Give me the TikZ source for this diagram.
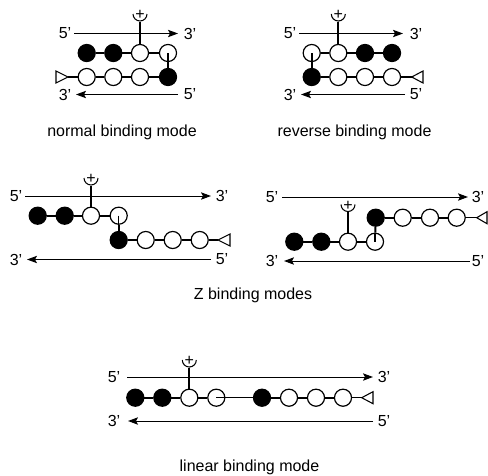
\documentclass[tikz,border=0pt]{standalone}
\usepackage{fontspec}
\setmainfont{Liberation Sans}
\usetikzlibrary{arrows.meta}
\tikzset{
  x=0.75pt,y=-0.75pt,
  wh/.style={circle,draw=black,fill=white,line width=0.9pt,minimum size=12.8pt,inner sep=0pt},
  bl/.style={circle,draw=black,fill=black,line width=0.9pt,minimum size=12.8pt,inner sep=0pt},
  bond/.style={line width=1.5pt},
  thinb/.style={line width=0.8pt},
  strand/.style={line width=0.75pt,-{Stealth[length=7.5pt,width=5.5pt,inset=1.5pt]}},
  lab/.style={font=\fontsize{12pt}{14pt}\selectfont,inner sep=0pt},
  captxt/.style={font=\fontsize{12pt}{14pt}\selectfont,inner sep=0pt},
  plustxt/.style={font=\fontsize{12pt}{14pt}\selectfont,inner sep=0pt},
}
% name, x, y : antenna cup above x, stem to circle
\newcommand{\mycup}[4]{%
  \coordinate (#1) at (#2,#3+7.5);
  \draw[line width=0.8pt] (#2-7,#3) arc[start angle=180,end angle=360,radius=5.25pt];
  \node[plustxt] (#1p) at (#2,#3+1) {+};
  \draw[bond] (#1) -- (#4);
}
% name, apex x, back x, y, circle
\newcommand{\mytri}[5]{%
  \coordinate (#1) at (#2,#4);
  \draw[line width=0.8pt,line join=miter] (#2,#4) -- (#3,#4-6) -- (#3,#4+6) -- cycle;
  \draw[thinb] (#1) -- (#5);
}
\newcommand{\myarrows}[8]{% x-left lab, x-from, x-to, x-right lab, y1, y2, xb from, xb to
  \node[lab] (#1a) at (#2,#6) {5'};
  \node[lab] (#1b) at (#5,#6) {3'};
  \node[lab] (#1c) at (#2,#7) {3'};
  \node[lab] (#1d) at (#5,#7) {5'};
  \coordinate (#1e) at (#3,#6); \coordinate (#1f) at (#4,#6);
  \coordinate (#1g) at (#8,#7);
  \draw[strand] (#1e) -- (#1f);
}
\begin{document}
\begin{tikzpicture}
\useasboundingbox (0,0) rectangle (488,475);
% panel 1
\myarrows{A}{65}{74}{178}{190}{33.5}{94.5}{178}
\coordinate (Ah) at (76,94.5); \draw[strand] (Ag) -- (Ah);
\node[bl] (a1) at (86.7,53) {}; \node[bl] (a2) at (113.3,53) {};
\node[wh] (a3) at (140,53) {}; \node[wh] (a4) at (168,53) {};
\node[wh] (a5) at (86.7,77) {}; \node[wh] (a6) at (113.3,77) {};
\node[wh] (a7) at (140,77) {}; \node[bl] (a8) at (168,77) {};
\draw[bond] (a1)--(a2); \draw[bond] (a2)--(a3); \draw[bond] (a3)--(a4);
\draw[bond] (a5)--(a6); \draw[bond] (a6)--(a7); \draw[bond] (a7)--(a8);
\draw[bond] (a4.center)--(a8);
\mycup{Au}{140}{14}{a3}
\mytri{At}{68}{56}{77}{a5}
\node[captxt] (c1) at (122,132.5) {normal binding mode};
% panel 2
\myarrows{B}{290}{299}{403}{416}{33.5}{94.5}{405}
\coordinate (Bh) at (301,94.5); \draw[strand] (Bg) -- (Bh);
\node[wh] (b1) at (311.7,53) {}; \node[wh] (b2) at (338.3,53) {};
\node[bl] (b3) at (365,53) {}; \node[bl] (b4) at (392,53) {};
\node[bl] (b5) at (311.7,77) {}; \node[wh] (b6) at (338.3,77) {};
\node[wh] (b7) at (365,77) {}; \node[wh] (b8) at (392,77) {};
\draw[bond] (b1)--(b2); \draw[bond] (b2)--(b3); \draw[bond] (b3)--(b4);
\draw[bond] (b5)--(b6); \draw[bond] (b6)--(b7); \draw[bond] (b7)--(b8);
\draw[bond] (b1.center)--(b5);
\mycup{Bu}{338.3}{14}{b2}
\mytri{Bt}{411.7}{423}{77}{b8}
\node[captxt] (c2) at (354.5,132.5) {reverse binding mode};
% panel 3
\myarrows{C}{16}{25}{211}{222}{196}{259.5}{211}
\coordinate (Ch) at (27,259.5); \draw[strand] (Cg) -- (Ch);
\node[bl] (d1) at (37.7,215.7) {}; \node[bl] (d2) at (64.7,215.7) {};
\node[wh] (d3) at (91,215.7) {}; \node[wh] (d4) at (118.7,215.7) {};
\node[bl] (d5) at (118.7,240) {}; \node[wh] (d6) at (145.7,240) {};
\node[wh] (d7) at (172.7,240) {}; \node[wh] (d8) at (199.7,240) {};
\draw[bond] (d1)--(d2); \draw[bond] (d2)--(d3); \draw[bond] (d3)--(d4);
\draw[bond] (d5)--(d6); \draw[bond] (d6)--(d7); \draw[bond] (d7)--(d8);
\draw[bond] (d4)--(d5); \draw[thinb] (d4.center)--(d4.south);
\mycup{Cu}{91}{178}{d3}
\mytri{Ct}{218}{230}{240}{d8}
% panel 4
\myarrows{D}{272}{282}{468}{478}{197}{261}{470}
\coordinate (Dh) at (284,261); \draw[strand] (Dg) -- (Dh);
\node[bl] (e1) at (375.7,217.7) {}; \node[wh] (e2) at (402.7,217.7) {};
\node[wh] (e3) at (430,217.7) {}; \node[wh] (e4) at (456.7,217.7) {};
\node[bl] (e5) at (294.3,241.7) {}; \node[bl] (e6) at (321.3,241.7) {};
\node[wh] (e7) at (348,241.7) {}; \node[wh] (e8) at (375,241.7) {};
\draw[bond] (e1)--(e2); \draw[bond] (e2)--(e3); \draw[bond] (e3)--(e4);
\draw[bond] (e5)--(e6); \draw[bond] (e6)--(e7); \draw[bond] (e7)--(e8);
\draw[bond] (e1)--(e8); \draw[thinb] (e8.north)--(e8.center);
\mycup{Du}{348}{204.5}{e7}
\mytri{Dt}{476.7}{487}{217.7}{e4}
\node[captxt] (c3) at (253,295.5) {Z binding modes};
% panel 5
\myarrows{E}{114}{127}{373}{384}{377}{421}{373}
\coordinate (Eh) at (128,421); \draw[strand] (Eg) -- (Eh);
\node[bl] (f1) at (135.3,397.7) {}; \node[bl] (f2) at (162.3,397.7) {};
\node[wh] (f3) at (189.3,397.7) {}; \node[wh] (f4) at (216.3,397.7) {};
\node[bl] (f5) at (262,397.7) {}; \node[wh] (f6) at (289,397.7) {};
\node[wh] (f7) at (316,397.7) {}; \node[wh] (f8) at (343,397.7) {};
\draw[bond] (f1)--(f2); \draw[bond] (f2)--(f3); \draw[bond] (f3)--(f4);
\draw[bond] (f5)--(f6); \draw[bond] (f6)--(f7); \draw[bond] (f7)--(f8);
\draw[thinb] (f4.center)--(f5);
\mycup{Eu}{189.3}{360}{f3}
\mytri{Et}{361.7}{373}{397.7}{f8}
\node[captxt] (c4) at (249.5,467) {linear binding mode};
\end{tikzpicture}
\end{document}
